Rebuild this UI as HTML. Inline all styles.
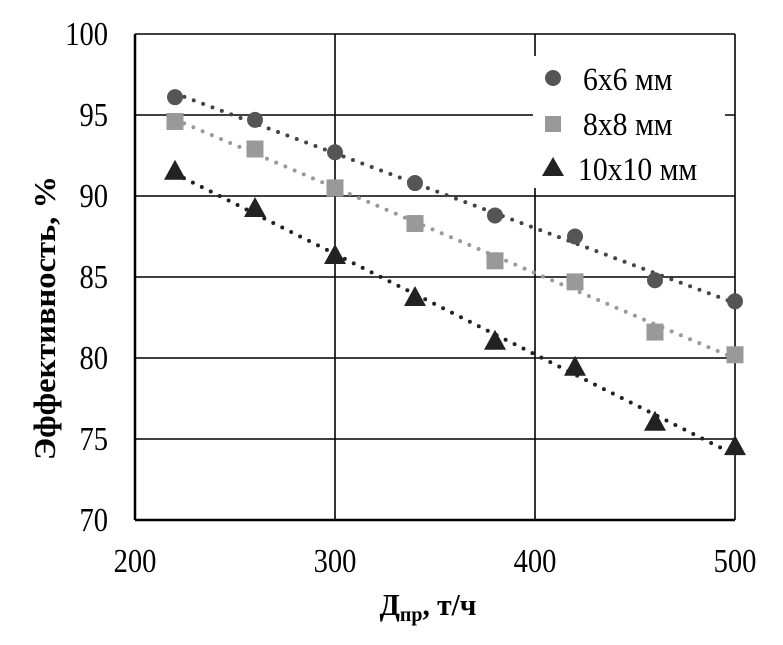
<!DOCTYPE html>
<html><head><meta charset="utf-8"><style>
html,body{margin:0;padding:0;background:#fff;}
svg text{font-family:"Liberation Serif","DejaVu Serif",serif;}
</style></head><body>
<svg id="s" width="783" height="640" xmlns="http://www.w3.org/2000/svg">
<rect width="783" height="640" fill="#fff"/>
<g id="g"></g>
</svg>
<script>
const g=document.getElementById('g');
const X=d=>135+(d-200)*2, Y=v=>34+(100-v)*16.2;
const T=(x,y,s,txt,anchor,sc)=>`<text transform="translate(${x},${y}) scale(${sc||0.84},1)" font-size="${s}" text-anchor="${anchor||'start'}">${txt}</text>`;
let h='';
for(let v=70;v<=100;v+=5){h+=`<line x1="135" x2="735" y1="${Y(v)}" y2="${Y(v)}" stroke="#000" stroke-width="${v==70?2.5:1.6}"/>`;
h+=T(108,Y(v)+11,34,v,'end');}
for(let d=200;d<=500;d+=100){h+=`<line x1="${X(d)}" x2="${X(d)}" y1="34" y2="${Y(70)}" stroke="#000" stroke-width="${d==200?2.5:1.6}"/>`;
h+=T(X(d),572,34,d,'middle');}
const xs=[220,260,300,340,380,420,460,500];
const S=[
{d:[96.1,94.7,92.7,90.8,88.8,87.5,84.8,83.5],c:'#555',col:'#444',m:'c'},
{d:[94.6,92.9,90.5,88.3,86.0,84.7,81.6,80.2],c:'#999',col:'#999',m:'s'},
{d:[91.5,89.2,86.3,83.7,81.0,79.4,76.0,74.5],c:'#222',col:'#222',m:'t'}];
S.forEach(s=>{
 let n=8,sx=0,sy=0,sxx=0,sxy=0;xs.forEach((x,i)=>{sx+=x;sy+=s.d[i];sxx+=x*x;sxy+=x*s.d[i];});
 let b=(n*sxy-sx*sy)/(n*sxx-sx*sx),a=(sy-b*sx)/n;
 h+=`<line x1="${X(220)}" y1="${Y(a+b*220)}" x2="${X(500)}" y2="${Y(a+b*500)}" stroke="${s.col}" stroke-width="4" stroke-linecap="round" stroke-dasharray="0 10"/>`;
 xs.forEach((x,i)=>{const px=X(x),py=Y(s.d[i]);
  if(s.m=='c')h+=`<circle cx="${px}" cy="${py}" r="8" fill="${s.c}"/>`;
  else if(s.m=='s')h+=`<rect x="${px-8.5}" y="${py-8.5}" width="17" height="17" fill="${s.c}"/>`;
  else h+=`<polygon points="${px},${py-12} ${px-11},${py+8} ${px+11},${py+8}" fill="${s.c}"/>`;});
});
h+=`<rect x="533" y="56" width="192" height="132" fill="#fff"/>`;
h+=`<circle cx="553" cy="78" r="8" fill="#555"/>`+T(583,90,33,'6x6 мм','start',0.9);
h+=`<rect x="545" y="116" width="16" height="16" fill="#999"/>`+T(583,135,33,'8x8 мм','start',0.9);
h+=`<polygon points="553,157 542,176 564,176" fill="#222"/>`+T(578,180,33,'10x10 мм','start',0.9);
h+=`<text transform="translate(428,615) scale(0.95,1)" font-size="31" font-weight="bold" text-anchor="middle">Д<tspan font-size="21" dy="6">пр</tspan><tspan dy="-6">, т/ч</tspan></text>`;
h+=`<text transform="translate(55,318) rotate(-90) scale(1.05,1)" font-size="31" font-weight="bold" text-anchor="middle">Эффективность, %</text>`;
g.innerHTML=h;
</script>
</body></html>
